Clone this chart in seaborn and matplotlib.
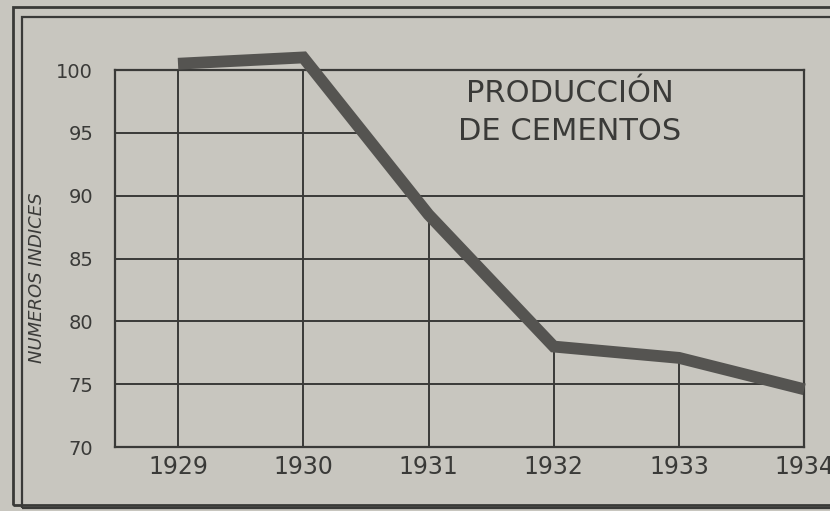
import numpy as np
import matplotlib.pyplot as plt
import seaborn as sns
import pandas as pd

# values
years = [1929, 1930, 1931, 1932, 1933, 1934]
indices = [100.5, 101.0, 88.5, 78.0, 77.1, 74.6]
y_ticks = [70, 75, 80, 85, 90, 95, 100]
title_lines = ["PRODUCCIÓN", "DE CEMENTOS"]
y_label = "NUMEROS INDICES"

paper = "#c8c6bf"
ink = "#3a3a38"

df = pd.DataFrame({"year": years, "index": indices})

sns.set_style("white")
plt.rcParams['font.family'] = ['DejaVu Sans']

fig = plt.figure(figsize=(8.3, 5.11), dpi=100, facecolor=paper)
ax = fig.add_axes([0.139, 0.125, 0.830, 0.738])
ax.set_facecolor(paper)

ax.set_xlim(1928.5, 1934)
ax.set_ylim(70, 100)

# horizontal grid lines (95 stops where the curve crosses it, title sits there)
for v in y_ticks[1:-1]:
    if v == 95:
        x_end = np.interp(95, indices[1:3][::-1], years[1:3][::-1])
        ax.hlines(v, 1928.5, x_end, color=ink, lw=1.4, zorder=1)
    else:
        ax.axhline(v, color=ink, lw=1.4, zorder=1)

# vertical lines only up to the curve
ax.vlines(years[:-1], 70, indices[:-1], color=ink, lw=1.4, zorder=1)

sns.lineplot(data=df, x="year", y="index", ax=ax, color="#555451", lw=8.5,
             solid_joinstyle="miter", solid_capstyle="butt", clip_on=True,
             zorder=3)
ax.set_xlim(1928.5, 1934)
ax.set_ylim(70, 100)
ax.lines[-1].set_clip_on(False)

for s in ax.spines.values():
    s.set_color(ink)
    s.set_linewidth(1.6)

ax.set_xticks(years)
ax.set_xticklabels([str(y) for y in years], fontsize=17, color=ink)
ax.set_yticks(y_ticks)
ax.set_yticklabels([str(v) for v in y_ticks], fontsize=14, color=ink)
ax.tick_params(axis="x", length=0, pad=6)
ax.tick_params(axis="y", length=0, pad=16)
ax.set_xlabel("")
ax.set_ylabel(y_label, fontsize=13, style="italic", color=ink)
ax.yaxis.set_label_coords(-0.10, 0.45)

ax.text(0.66, 0.939, title_lines[0], transform=ax.transAxes, ha="center",
        va="center", fontsize=22, color=ink)
ax.text(0.66, 0.838, title_lines[1], transform=ax.transAxes, ha="center",
        va="center", fontsize=22, color=ink)

# double border of the printed figure
fig.add_artist(plt.Rectangle((0.016, 0.012), 1.0, 0.975, transform=fig.transFigure,
                             fill=False, ec=ink, lw=2))
fig.add_artist(plt.Rectangle((0.026, 0.006), 1.0, 0.96, transform=fig.transFigure,
                             fill=False, ec=ink, lw=1.6))

fig.savefig("out.png", dpi=100, facecolor=paper)
